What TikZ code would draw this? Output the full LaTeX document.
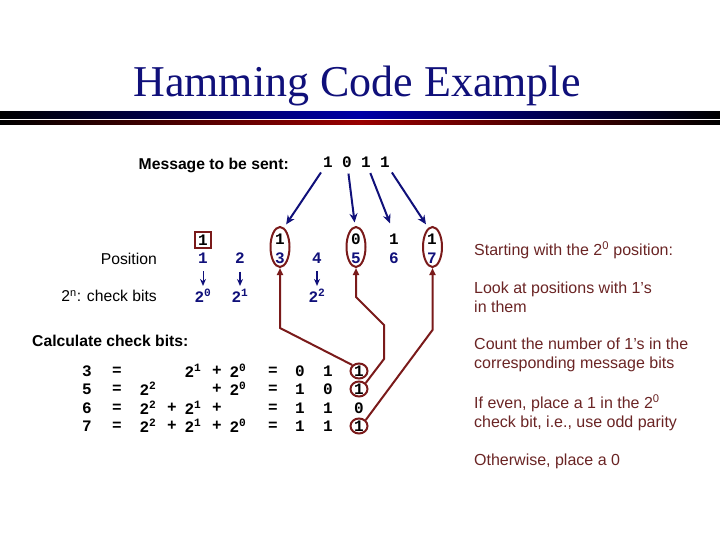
\documentclass[tikz,border=0pt]{standalone}
\usepackage{fontspec}
\setmainfont{Liberation Serif}
\setsansfont{Liberation Sans}
\setmonofont{Liberation Mono}
\usetikzlibrary{arrows.meta,shapes.geometric}
\definecolor{navy}{HTML}{10107A}
\definecolor{maroon}{HTML}{7A1A1A}
\definecolor{notered}{HTML}{6A2424}
\tikzset{
  title/.style={font=\fontsize{44}{48}\selectfont\rmfamily,text=navy},
  plain/.style={font=\fontsize{15.7}{19}\selectfont\sffamily,inner sep=0pt},
  head/.style={plain,font=\fontsize{15.7}{19}\selectfont\sffamily\bfseries},
  digit/.style={font=\fontsize{16}{19}\selectfont\ttfamily\bfseries,inner sep=0pt},
  posnum/.style={digit,text=navy},
  note/.style={font=\fontsize{16}{19}\selectfont\sffamily,inner sep=0pt,text=notered,anchor=west,align=left},
  hoop/.style={draw=maroon,line width=2pt,ellipse,minimum width=19pt,minimum height=40pt,inner sep=0pt},
  ring/.style={digit,draw=maroon,line width=2pt,ellipse,minimum width=17pt,minimum height=15pt},
  feed/.style={-{Stealth[length=9pt,width=8pt]},draw=navy,line width=2pt,shorten <=6pt,shorten >=11pt},
  drop/.style={-{Stealth[length=7pt,width=6pt]},draw=navy,line width=2pt,shorten <=8pt,shorten >=3pt},
  link/.style={-{Triangle[length=7pt,width=6pt]},draw=maroon,line width=2pt}
}

\begin{document}
\begin{tikzpicture}[x=1pt,y=-1pt]
  \useasboundingbox (0,0) rectangle (720,540);
  % title and rules
  \node[title] (title) at (357,86) {Hamming Code Example};
  \shade[left color=black,right color=black,middle color=blue!65!black] (0,112) rectangle (720,118.5);
  \shade[left color=black,right color=black,middle color=red!60!black] (0,120.5) rectangle (720,125);

  % message
  \node[head,anchor=east] (msg) at (289,165) {Message to be sent:};
  \node[digit] (m1) at (328,162) {1};
  \node[digit] (m2) at (347,162) {0};
  \node[digit] (m3) at (366,162) {1};
  \node[digit] (m4) at (385,162) {1};

  % code word
  \node[digit,draw=maroon,line width=2pt,minimum width=16pt,minimum height=16pt] (b1) at (203,240) {1};
  \node[digit] (b3) at (280,239) {1};
  \node[digit] (b5) at (356,239) {0};
  \node[digit] (b6) at (394,239) {1};
  \node[digit] (b7) at (432,239) {1};
  \node[plain,anchor=east] (position) at (157,259) {Position};
  \foreach \i/\x in {1/203,2/240,3/280,4/317,5/356,6/394,7/432}
    \node[posnum] (p\i) at (\x,258) {\i};
  \node[hoop] (e3) at (280,247) {};
  \node[hoop] (e5) at (356,247) {};
  \node[hoop] (e7) at (432.5,247) {};

  % check bit positions
  \node[plain,anchor=east] (checks) at (157,296) {2\textsuperscript{n}: check bits};
  \node[posnum] (k1) at (203,296) {2\textsuperscript{0}};
  \node[posnum] (k2) at (240,296) {2\textsuperscript{1}};
  \node[posnum] (k4) at (317,296) {2\textsuperscript{2}};
  \draw[drop,line width=1pt] (p1) -- (k1);
  \draw[drop] (p2) -- (k2);
  \draw[drop] (p4) -- (k4);

  \draw[feed] (m1) -- (b3.north);
  \draw[feed] (m2) -- (b5.north);
  \draw[feed] (m3) -- (b6.north);
  \draw[feed] (m4) -- (b7.north);

  % calculation
  \node[head,anchor=west] (calc) at (32,341) {Calculate check bits:};
  \foreach \r/\y/\n/\a/\pa/\b/\pb/\c/\u/\v in {
      1/371/3/{}/{}/2\textsuperscript{1}/+/2\textsuperscript{0}/0/1,
      2/389/5/2\textsuperscript{2}/{}/{}/+/2\textsuperscript{0}/1/0,
      3/408/6/2\textsuperscript{2}/+/2\textsuperscript{1}/+/{}/1/1,
      4/426/7/2\textsuperscript{2}/+/2\textsuperscript{1}/+/2\textsuperscript{0}/1/1}{
    \node[digit] (n\r) at (87,\y) {\n};
    \node[digit] (q\r) at (117,\y) {=};
    \node[digit] (a\r) at (148,\y) {\a};
    \node[digit] (s\r) at (172,\y) {\pa};
    \node[digit] (t\r) at (193,\y) {\b};
    \node[digit] (w\r) at (217,\y) {\pb};
    \node[digit] (z\r) at (238,\y) {\c};
    \node[digit] (r\r) at (273,\y) {=};
    \node[digit] (u\r) at (300,\y) {\u};
    \node[digit] (v\r) at (328,\y) {\v};
  }
  \node[ring] (c1) at (359,371) {1};
  \node[ring] (c2) at (359,389) {1};
  \node[digit] (c3) at (359,408) {0};
  \node[ring] (c4) at (359,426) {1};

  \draw[link] (c1.north west) -- (280,328) -- (e3.south);
  \draw[link] (c2.north east) -- (384,359) -- (384,325) -- (356,297) -- (e5.south);
  \draw[link] (c4.north east) -- (432.5,330) -- (e7.south);

  % notes
  \node[note] (n1) at (474,250) {Starting with the 2\textsuperscript{0} position:};
  \node[note] (n2) at (474,297.5) {Look at positions with 1's\\in them};
  \node[note] (n3) at (474,355) {Count the number of 1's in the\\corresponding message bits};
  \node[note] (n4) at (474,412.5) {If even, place a 1 in the 2\textsuperscript{0}\\check bit, i.e., use odd parity};
  \node[note] (n5) at (474,461) {Otherwise, place a 0};
\end{tikzpicture}
\end{document}
